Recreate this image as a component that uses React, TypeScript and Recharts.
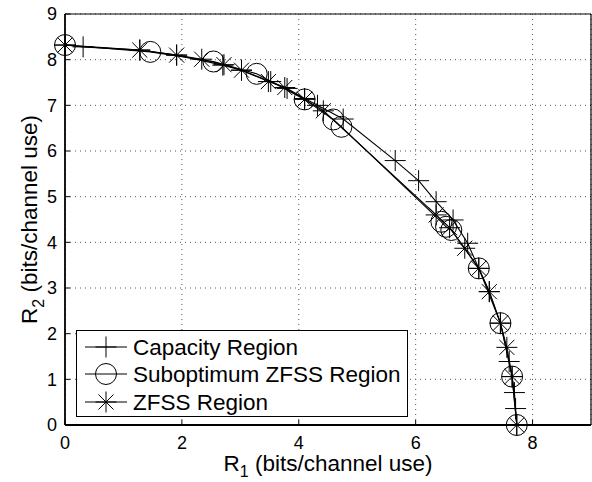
import React from 'react';
import { LineChart, Line, XAxis, YAxis, CartesianGrid, Legend } from 'recharts';

// ---- data ----
const capacityR1 = [0, 0.31, 1.28, 1.91, 2.7, 3.02, 3.52, 3.8, 4.1, 4.32, 4.76, 5.65, 6.05, 6.35, 6.64, 6.89, 7.08, 7.26, 7.45, 7.6, 7.65, 7.69, 7.71, 7.73];
const capacityR2 = [8.32, 8.28, 8.21, 8.1, 7.88, 7.77, 7.52, 7.37, 7.15, 7.0, 6.7, 5.79, 5.35, 4.89, 4.49, 3.98, 3.43, 2.92, 2.23, 1.39, 1.06, 0.71, 0.36, 0];

const subR1 = [0, 1.46, 2.54, 3.28, 4.1, 4.59, 4.73, 6.44, 6.52, 6.61, 7.08, 7.45, 7.65, 7.73];
const subR2 = [8.32, 8.17, 7.96, 7.69, 7.13, 6.69, 6.53, 4.45, 4.34, 4.27, 3.43, 2.23, 1.06, 0];

const zfssR1 = [0, 1.28, 1.91, 2.34, 2.72, 3.02, 3.48, 3.76, 4.1, 4.42, 6.35, 6.58, 6.84, 7.08, 7.26, 7.45, 7.56, 7.65, 7.73];
const zfssR2 = [8.32, 8.21, 8.1, 8.01, 7.89, 7.77, 7.52, 7.39, 7.13, 6.88, 4.6, 4.32, 3.87, 3.43, 2.92, 2.23, 1.7, 1.06, 0];

const xTicks = [0, 2, 4, 6, 8];
const yTicks = [0, 1, 2, 3, 4, 5, 6, 7, 8, 9];
const seriesNames = ['Capacity Region', 'Suboptimum ZFSS Region', 'ZFSS Region'];
const seriesMarkers = ['plus', 'circle', 'star'];
const xLabelMain = 'R';
const xLabelSub = '1';
const yLabelMain = 'R';
const yLabelSub = '2';
const axisUnit = ' (bits/channel use)';

const zip = (xs: number[], ys: number[]) => xs.map((x, i) => ({ r1: x, r2: ys[i] }));
const capacityData = zip(capacityR1, capacityR2);
const subData = zip(subR1, subR2);
const zfssData = zip(zfssR1, zfssR2);

const FONT = '"Liberation Sans", Arial, Helvetica, sans-serif';
const TICK_FS = 18;
const LABEL_FS = 22.5;

const MarkerShape = ({ cx, cy, kind, r = 10.5 }: { cx: number; cy: number; kind: string; r?: number }) => {
  if (cx == null || cy == null || isNaN(cx) || isNaN(cy)) return null;
  if (kind === 'circle') {
    return <circle cx={cx} cy={cy} r={r} fill="none" stroke="#000" strokeWidth={1} />;
  }
  let d = `M${cx - r},${cy}H${cx + r}M${cx},${cy - r}V${cy + r}`;
  if (kind === 'star') {
    const k = r * 0.72;
    d += `M${cx - k},${cy - k}L${cx + k},${cy + k}M${cx - k},${cy + k}L${cx + k},${cy - k}`;
  }
  return <path d={d} stroke="#000" strokeWidth={1} fill="none" />;
};

const makeDot = (kind: string) => (p: any) => (
  <MarkerShape key={`${kind}-${p.index}`} cx={p.cx} cy={p.cy} kind={kind} />
);

const XLabel = (props: any) => {
  const vb = props.viewBox || {};
  const cx = vb.x + vb.width / 2;
  const y = vb.y + 46;
  return (
    <text x={cx} y={y} textAnchor="middle" fontFamily={FONT} fontSize={LABEL_FS} fill="#000">
      <tspan>{xLabelMain}</tspan>
      <tspan dy={6} fontSize={16}>{xLabelSub}</tspan>
      <tspan dy={-6}>{axisUnit}</tspan>
    </text>
  );
};

const YLabel = (props: any) => {
  const vb = props.viewBox || {};
  const cy = vb.y + vb.height / 2;
  const x = 37;
  return (
    <text
      x={x}
      y={cy}
      textAnchor="middle"
      transform={`rotate(-90, ${x}, ${cy})`}
      fontFamily={FONT}
      fontSize={LABEL_FS}
      fill="#000"
    >
      <tspan>{yLabelMain}</tspan>
      <tspan dy={7} fontSize={16}>{yLabelSub}</tspan>
      <tspan dy={-7}>{axisUnit}</tspan>
    </text>
  );
};

const LegendBox = () => {
  const w = 332;
  const h = 87;
  const rows = [17, 44, 72];
  return (
    <svg width={w} height={h} style={{ display: 'block' }}>
      <rect x={0.5} y={0.5} width={w - 1} height={h - 1} fill="#fff" stroke="#000" strokeWidth={1} />
      {seriesNames.map((name, i) => (
        <g key={name}>
          <line x1={9} x2={51} y1={rows[i]} y2={rows[i]} stroke="#000" strokeWidth={1.1} />
          <MarkerShape cx={30} cy={rows[i]} kind={seriesMarkers[i]} />
          <text x={57} y={rows[i] + 8} fontFamily={FONT} fontSize={LABEL_FS} fill="#000">
            {name}
          </text>
        </g>
      ))}
    </svg>
  );
};

const axisStyle = { fontFamily: FONT, fontSize: TICK_FS, fill: '#000' };

export default function App() {
  return (
    <div style={{ position: 'absolute', left: 0, top: 0, background: '#fff' }}>
      <LineChart width={592} height={482} margin={{ top: 13, right: 0, left: 0, bottom: 0 }}>
        <CartesianGrid stroke="#555" strokeWidth={1} strokeDasharray="1 4" />
        <XAxis
          type="number"
          dataKey="r1"
          domain={[0, 9]}
          ticks={xTicks}
          height={57}
          tickSize={-5}
          tickMargin={16}
          tick={axisStyle}
          axisLine={{ stroke: '#000', strokeWidth: 1.8 }}
          tickLine={{ stroke: '#000', strokeWidth: 1 }}
          label={{ content: (p: any) => <XLabel {...p} /> }}
        />
        <XAxis
          xAxisId="top"
          orientation="top"
          type="number"
          domain={[0, 9]}
          ticks={xTicks}
          height={1}
          tickSize={-5}
          tickFormatter={() => ''}
          axisLine={{ stroke: '#000', strokeWidth: 1.2 }}
          tickLine={{ stroke: '#000', strokeWidth: 1 }}
        />
        <YAxis
          type="number"
          domain={[0, 9]}
          ticks={yTicks}
          width={65}
          tickSize={-5}
          tickMargin={13}
          tick={axisStyle}
          axisLine={{ stroke: '#000', strokeWidth: 1.8 }}
          tickLine={{ stroke: '#000', strokeWidth: 1 }}
          label={{ content: (p: any) => <YLabel {...p} /> }}
        />
        <YAxis
          yAxisId="right"
          orientation="right"
          type="number"
          domain={[0, 9]}
          ticks={yTicks}
          width={1}
          tickSize={-5}
          tickFormatter={() => ''}
          axisLine={{ stroke: '#000', strokeWidth: 1.2 }}
          tickLine={{ stroke: '#000', strokeWidth: 1 }}
        />
        <Legend
          layout="vertical"
          align="center"
          verticalAlign="middle"
          wrapperStyle={{ left: 76, top: 330, width: 332, height: 87 }}
          content={() => <LegendBox />}
        />
        <Line
          data={capacityData}
          dataKey="r2"
          type="linear"
          stroke="#000"
          strokeWidth={1.1}
          dot={makeDot('plus')}
          activeDot={false}
          isAnimationActive={false}
        />
        <Line
          data={subData}
          dataKey="r2"
          type="linear"
          stroke="#000"
          strokeWidth={1.1}
          dot={makeDot('circle')}
          activeDot={false}
          isAnimationActive={false}
        />
        <Line
          data={zfssData}
          dataKey="r2"
          type="linear"
          stroke="#000"
          strokeWidth={1.1}
          dot={makeDot('star')}
          activeDot={false}
          isAnimationActive={false}
        />
      </LineChart>
    </div>
  );
}
